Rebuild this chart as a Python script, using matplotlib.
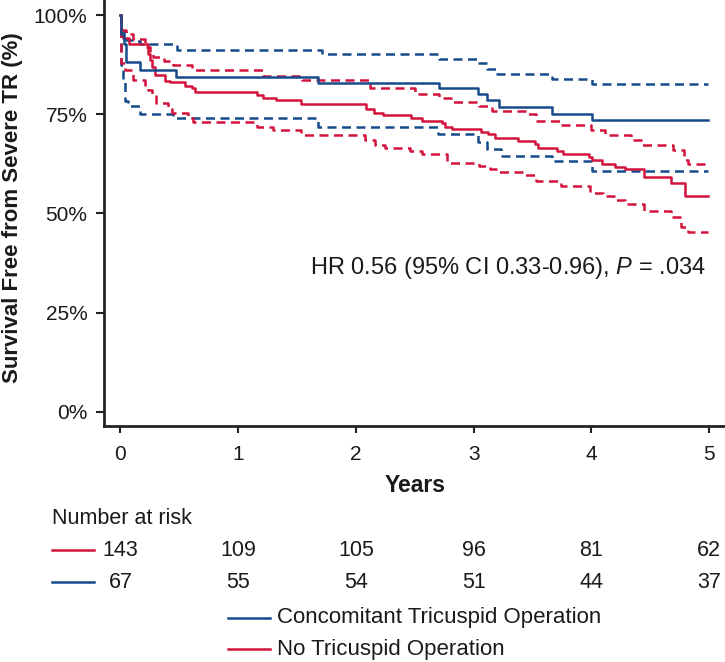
import matplotlib
matplotlib.use('Agg')
import matplotlib.pyplot as plt
from matplotlib.lines import Line2D
import matplotlib.transforms as mtransforms

plt.rcParams['font.family'] = ['Liberation Sans', 'DejaVu Sans']
plt.rcParams['mathtext.fontset'] = 'custom'
plt.rcParams['mathtext.it'] = 'Liberation Sans:italic'
plt.rcParams['mathtext.rm'] = 'Liberation Sans'

# ---------------- data ----------------
years_ticks = [0, 1, 2, 3, 4, 5]
pct_ticks = [0, 25, 50, 75, 100]
pct_labels = ['0%', '25%', '50%', '75%', '100%']

# Concomitant Tricuspid Operation (blue)
conc_t = [0, 0.005, 0.03, 0.05, 0.17, 0.47, 1.68, 2.71, 3.04, 3.11, 3.22, 3.67, 4.01, 4.99]
conc_s = [100, 95.3, 92.8, 88.2, 86.2, 84.5, 83.0, 81.5, 80.0, 78.5, 76.8, 75.1, 73.6, 73.6]

conc_hi_t = [0, 0.005, 0.05, 0.12, 0.17, 0.48, 1.71, 2.71, 3.04, 3.11, 3.20, 3.67, 4.01, 4.99]
conc_hi = [100, 95.7, 93.8, 93.4, 92.8, 91.3, 90.3, 88.8, 87.8, 86.5, 85.1, 84.0, 82.6, 82.6]

conc_lo_t = [0, 0.005, 0.02, 0.04, 0.06, 0.17, 0.45, 1.68, 2.70, 3.04, 3.11, 3.23, 3.67, 4.01, 4.99]
conc_lo = [100, 87.3, 83.3, 78.4, 77.0, 75.0, 74.0, 71.8, 70.0, 68.0, 66.3, 64.5, 63.2, 60.7, 60.7]

# No Tricuspid Operation (red)
none_t = [0, 0.005, 0.02, 0.07, 0.23, 0.25, 0.27, 0.29, 0.38, 0.42, 0.55, 0.61, 0.63, 1.16,
          1.21, 1.32, 1.53, 2.09, 2.15, 2.23, 2.47, 2.56, 2.73, 2.76, 2.82, 3.06, 3.12, 3.18,
          3.38, 3.52, 3.55, 3.71, 3.76, 3.98, 4.01, 4.09, 4.20, 4.29, 4.45, 4.68, 4.80, 4.99]
none_s = [100, 95.2, 94.2, 92.8, 90.3, 88.6, 86.8, 84.8, 83.5, 83.1, 82.0, 81.5, 80.7, 79.8,
          79.1, 78.5, 77.7, 76.2, 75.4, 74.7, 74.0, 73.4, 72.8, 71.9, 71.2, 70.6, 69.9, 69.1,
          68.3, 67.4, 66.6, 65.7, 65.1, 64.2, 63.5, 62.4, 61.8, 61.1, 59.2, 57.7, 54.3, 54.3]

none_hi_t = [0, 0.005, 0.05, 0.11, 0.21, 0.25, 0.28, 0.37, 0.45, 0.61, 1.21, 1.54, 2.12, 2.50,
             2.71, 2.81, 3.05, 3.16, 3.46, 3.53, 3.74, 4.00, 4.12, 4.34, 4.43, 4.69, 4.79, 4.82, 4.99]
none_hi = [100, 96.2, 95.3, 94.0, 92.0, 90.7, 89.5, 88.3, 87.5, 86.2, 84.6, 83.6, 81.5, 80.2,
           79.0, 78.1, 77.0, 75.8, 75.0, 73.4, 72.3, 71.0, 69.7, 68.4, 67.2, 65.9, 63.5, 62.4, 62.4]

none_lo_t = [0, 0.003, 0.04, 0.11, 0.21, 0.23, 0.27, 0.30, 0.40, 0.44, 0.57, 0.62, 1.16, 1.30,
             1.53, 2.08, 2.16, 2.25, 2.46, 2.56, 2.77, 3.05, 3.14, 3.22, 3.42, 3.53, 3.74, 3.99,
             4.10, 4.19, 4.29, 4.45, 4.68, 4.76, 4.82, 4.99]
none_lo = [100, 87.8, 86.1, 83.6, 82.3, 81.1, 79.8, 77.9, 76.4, 75.2, 74.1, 73.0, 71.8, 71.0,
           69.7, 68.4, 67.2, 66.6, 65.7, 64.9, 62.8, 62.0, 61.1, 60.5, 59.7, 58.2, 56.9, 55.1,
           54.4, 53.3, 52.4, 50.7, 49.1, 46.6, 45.3, 45.3]

risk_none = [143, 109, 105, 96, 81, 62]
risk_conc = [67, 55, 54, 51, 44, 37]

label_conc = 'Concomitant Tricuspid Operation'
label_none = 'No Tricuspid Operation'
hr_text = 'HR 0.56 (95% CI 0.33-0.96), $P$ = .034'

# ---------------- style ----------------
BLUE = '#154b8b'
RED = '#d2143c'
AX = '#222222'
TXT = '#1a1a1a'
W, H = 725, 662
FS = 15

fig = plt.figure(figsize=(W / 100, H / 100), dpi=100)
ax = fig.add_axes([104 / W, 1 - 426 / H, 1 - 104 / W, 426 / H])

lw = 1.8
dash = (0, (3.6, 2.2))
ax.step(conc_hi_t, conc_hi, where='post', color=BLUE, lw=lw, ls=dash, zorder=2)
ax.step(conc_lo_t, conc_lo, where='post', color=BLUE, lw=lw, ls=dash, zorder=2)
ax.step(none_hi_t, none_hi, where='post', color=RED, lw=lw, ls=dash, zorder=2)
ax.step(none_lo_t, none_lo, where='post', color=RED, lw=lw, ls=dash, zorder=2)
ax.step(none_t, none_s, where='post', color=RED, lw=lw, zorder=3)
ax.step(conc_t, conc_s, where='post', color=BLUE, lw=lw, zorder=4)

ax.set_xlim(-0.140, 5.136)
ax.set_ylim(-3.6, 103.8)
ax.set_xticks(years_ticks)
ax.set_xticklabels([str(y) for y in years_ticks])
ax.set_yticks(pct_ticks)
ax.set_yticklabels(pct_labels)
for s in ['top', 'right']:
    ax.spines[s].set_visible(False)
for s in ['left', 'bottom']:
    ax.spines[s].set_linewidth(2.0)
    ax.spines[s].set_color(AX)
ax.tick_params(axis='x', direction='out', length=5, width=1.5, color=AX, pad=9,
               labelsize=FS, labelcolor=TXT)
ax.tick_params(axis='y', direction='out', length=6, width=1.5, color=AX, pad=6,
               labelsize=FS, labelcolor=TXT)

ax.text(706 / W, 1 - 268 / H, hr_text, transform=fig.transFigure, ha='right', va='center',
        fontsize=17, color=TXT)

fig.text(13 / W, 1 - 208 / H, 'Survival Free from Severe TR (%)', rotation=90,
         ha='center', va='center', fontsize=16, fontweight='bold', color=TXT)
fig.text(415 / W, 1 - 486 / H, 'Years', ha='center', va='center', fontsize=16.5,
         fontweight='bold', color=TXT)

# number at risk table
fig.text(52 / W, 1 - 519 / H, 'Number at risk', ha='left', va='center', fontsize=15.5,
         color=TXT)
blend = mtransforms.blended_transform_factory(ax.transData, fig.transFigure)
rows = [(risk_none, RED, 1 - 550 / H), (risk_conc, BLUE, 1 - 582 / H)]
for vals, col, yy in rows:
    fig.add_artist(Line2D([52 / W, 94 / W], [yy, yy], color=col, lw=1.8,
                          transform=fig.transFigure))
    for xv, n in zip(years_ticks, vals):
        ax.text(xv, yy, str(n), transform=blend, ha='center', va='center', fontsize=15.5,
                color=TXT, clip_on=False)

# legend
leg = [(label_conc, BLUE, 1 - 618 / H), (label_none, RED, 1 - 649 / H)]
for lab, col, yy in leg:
    fig.add_artist(Line2D([228 / W, 270 / W], [yy, yy], color=col, lw=1.8,
                          transform=fig.transFigure))
    fig.text(277 / W, yy, lab, ha='left', va='center', fontsize=16, color=TXT)

fig.savefig('out.png', dpi=100)
